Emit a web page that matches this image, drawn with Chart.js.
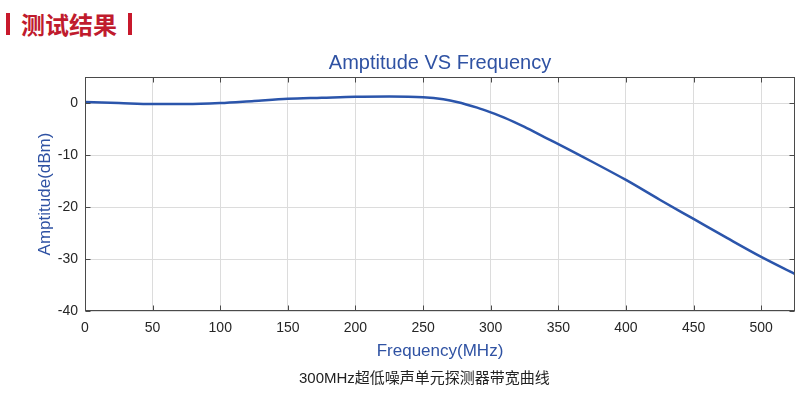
<!DOCTYPE html>
<html>
<head>
<meta charset="utf-8">
<script src="https://cdn.jsdelivr.net/npm/chart.js@4.4.1/dist/chart.umd.min.js"></script>
<style>
  body { margin: 0; width: 801px; height: 396px; background: #fff; position: relative; overflow: hidden; font-family: "Liberation Sans", Arial, "Noto Sans CJK SC", sans-serif; }
  .bar { position: absolute; top: 13px; width: 4px; height: 22px; background: #c8192c; }
  #hdr { position: absolute; left: 21px; top: 10px; font: bold 24px/28px "Noto Sans CJK SC", sans-serif; color: #c01b2d; }
  #caption { position: absolute; left: 299px; top: 369px; font-size: 15px; line-height: 18px; color: #222; white-space: nowrap; }
  #wrap { position: absolute; left: 0; top: 0; width: 801px; height: 396px; }
</style>
</head>
<body>
<div class="bar" style="left:6px"></div>
<div id="hdr">测试结果</div>
<div class="bar" style="left:128px"></div>
<div id="wrap"><canvas id="chart" width="801" height="396"></canvas></div>
<div id="caption">300MHz超低噪声单元探测器带宽曲线</div>
<script>
// data
const freqMHz = [0, 25, 50, 75, 100, 125, 150, 175, 200, 225, 250, 265, 275, 290, 300, 310, 325, 340, 350, 375, 400, 425, 450, 475, 500, 525];
const amplitudeDbm = [0.2, 0.0, -0.2, -0.2, 0.0, 0.4, 0.8, 1.0, 1.2, 1.25, 1.1, 0.7, 0.2, -0.9, -1.8, -2.8, -4.6, -6.6, -7.9, -11.3, -14.8, -18.6, -22.3, -26.0, -29.6, -32.9];
const xTicks = [0, 50, 100, 150, 200, 250, 300, 350, 400, 450, 500];
const yTicks = [-40, -30, -20, -10, 0];

const lineBlue = "#2b55ab";
const textBlue = "#2f52a3";
const fontFam = "'Liberation Sans', Arial, sans-serif";

// matlab-like box with inward ticks on all four sides
const axesBox = {
  id: "axesBox",
  afterDraw(chart) {
    const { ctx, chartArea: a, scales: { x, y } } = chart;
    const L = a.left + 0.5, R = a.right - 0.5, T = a.top + 0.5, B = a.bottom - 0.5;
    ctx.save();
    ctx.strokeStyle = "#4a4a4a";
    ctx.lineWidth = 1;
    ctx.strokeRect(L, T, R - L, B - T);
    ctx.beginPath();
    xTicks.forEach((v) => {
      const px = Math.round(x.getPixelForValue(v)) + 0.5;
      ctx.moveTo(px, B); ctx.lineTo(px, B - 5);
      ctx.moveTo(px, T); ctx.lineTo(px, T + 5);
    });
    yTicks.forEach((v) => {
      const py = Math.round(y.getPixelForValue(v)) + 0.5;
      ctx.moveTo(L, py); ctx.lineTo(L + 5, py);
      ctx.moveTo(R, py); ctx.lineTo(R - 5, py);
    });
    ctx.stroke();
    ctx.restore();
  }
};

new Chart(document.getElementById("chart"), {
  type: "line",
  data: {
    datasets: [{
      data: freqMHz.map((f, i) => ({ x: f, y: amplitudeDbm[i] })),
      borderColor: lineBlue,
      borderWidth: 2.5,
      pointRadius: 0,
      tension: 0.4,
      cubicInterpolationMode: "monotone",
      fill: false
    }]
  },
  options: {
    responsive: false,
    animation: false,
    layout: { padding: { left: 0, right: 6, top: 0, bottom: 31 } },
    plugins: {
      legend: { display: false },
      tooltip: { enabled: false },
      title: {
        display: true,
        fullSize: false,
        text: "Amptitude VS Frequency",
        color: textBlue,
        font: { family: fontFam, size: 20, weight: "normal" },
        padding: { top: 51, bottom: 2 }
      }
    },
    scales: {
      x: {
        type: "linear", min: 0, max: 525,
        afterBuildTicks: (s) => { s.ticks = xTicks.map((v) => ({ value: v })); },
        afterFit: (s) => { s.height = 54; },
        ticks: { color: "#262626", font: { family: fontFam, size: 14 }, padding: 9, maxRotation: 0, autoSkip: false },
        grid: { color: "#dcdcdc", drawTicks: false },
        border: { display: false },
        title: { display: true, text: "Frequency(MHz)", color: textBlue, font: { family: fontFam, size: 17 }, padding: { top: 0, bottom: 3 } }
      },
      y: {
        type: "linear", min: -40, max: 5,
        afterBuildTicks: (s) => { s.ticks = yTicks.map((v) => ({ value: v })); },
        afterFit: (s) => { s.width = 85; },
        ticks: { color: "#262626", font: { family: fontFam, size: 14 }, padding: 7 },
        grid: { color: "#dcdcdc", drawTicks: false },
        border: { display: false },
        title: { display: true, text: "Amptitude(dBm)", color: textBlue, font: { family: fontFam, size: 17 }, padding: { top: 35, bottom: 0 } }
      }
    }
  },
  plugins: [axesBox]
});
</script>
</body>
</html>
